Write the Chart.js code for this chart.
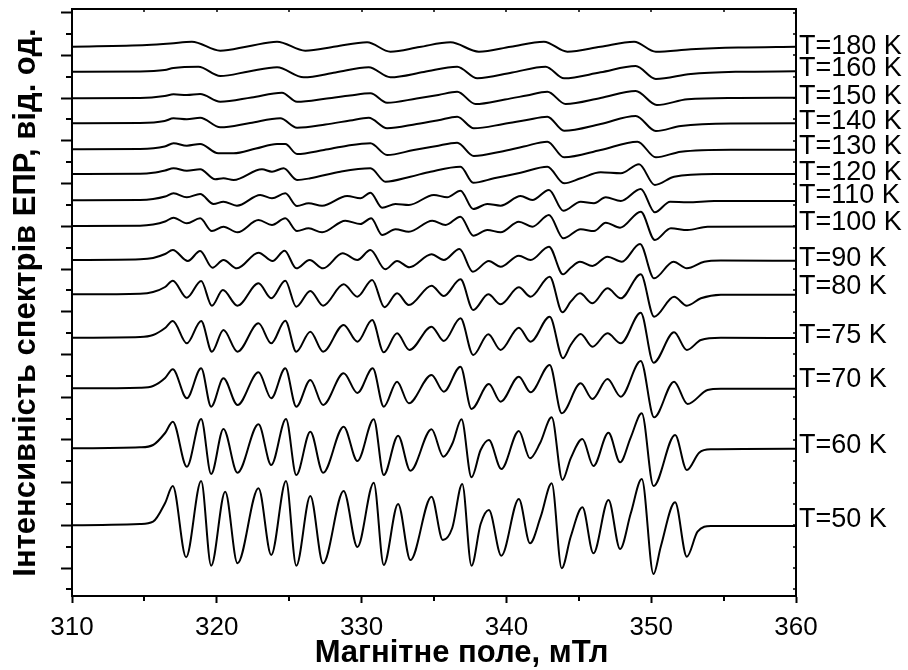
<!DOCTYPE html>
<html>
<head>
<meta charset="utf-8">
<script src="https://cdn.jsdelivr.net/npm/chart.js@4.4.1/dist/chart.umd.min.js"></script>
<style>
  html, body { margin: 0; padding: 0; background: #fff; }
  #wrap { width: 908px; height: 670px; }
</style>
</head>
<body>
<div id="wrap"><canvas id="myChart" width="908" height="670"></canvas></div>
<script>
// Спектри ЕПР: [поле, мТл ; інтенсивність, від. од.]
var temps = ['T=180 K', 'T=160 K', 'T=150 K', 'T=140 K', 'T=130 K', 'T=120 K', 'T=110 K',
    'T=100 K', 'T=90 K', 'T=80 K', 'T=75 K', 'T=70 K', 'T=60 K', 'T=50 K'];
// де стоїть підпис кожного спектра (по осі інтенсивності)
var labelPos = [549.3, 527, 499, 474, 449, 423, 400, 373, 337, 309, 260, 216, 150, 76];

var xTickLabels = ['310', '320', '330', '340', '350', '360'];
var xMinor = [315, 325, 335, 345, 355];
var xTitle = 'Магнітне поле, мТл';

var t180 = [[310, 549.3], [315.17, 551], [316.8, 552.5], [318.28, 554.3], [320.24, 545.3], [322.2, 549.8],
    [324.16, 554.3], [326.11, 545.3], [328.2, 549.5], [330.38, 553.7], [331.99, 544.3], [334, 549],
    [336.14, 553.7], [338.1, 544.3], [340.3, 549.3], [342.59, 554.3], [344.21, 544.3], [346.5, 549.3],
    [348.82, 554.3], [350.32, 544.3], [352.74, 546.7], [356, 548.5], [360, 549.3]];
var t160 = [[310, 524.3], [314.7, 524.5], [316.4, 526], [317.01, 528], [318.73, 529.3], [320.24, 520],
    [322.2, 524.5], [324.16, 528.7], [326, 518.7], [328.2, 523.5], [330.49, 528.7], [331.99, 518.7],
    [334.3, 524], [336.6, 529.3], [337.99, 517.7], [340.4, 523.5], [342.71, 529.3], [343.98, 517.7],
    [346.5, 523.7], [348.93, 530], [350.32, 517], [352.74, 522], [356, 524.2], [360, 524.7]];
var t150 = [[310, 497.7], [314.7, 498], [316.4, 500], [317.01, 501.7], [317.93, 501], [318.85, 502],
    [320.24, 494.3], [322.4, 498.5], [324.5, 503.3], [325.54, 494.3], [327.6, 497.5], [329.2, 500.5],
    [330.61, 502.7], [331.76, 493.3], [333.8, 497.5], [335.3, 501], [336.6, 504.3], [337.87, 492],
    [339.9, 496.5], [341.4, 500.5], [342.83, 504.3], [344.09, 492], [346.5, 498], [348.93, 505],
    [350.39, 491], [352.51, 496.7], [356, 498], [360, 498.3]];
var t140 = [[310, 472.7], [314.7, 473], [316.4, 475], [317.01, 477.7], [317.93, 476.7], [318.85, 478.3],
    [320.24, 468.7], [322.3, 473], [324.38, 477.7], [325.54, 468.3], [327.5, 471.5], [329.2, 475.5],
    [330.49, 478.3], [331.76, 467.7], [333.8, 472], [335.3, 475.8], [336.6, 479.3], [337.75, 467.7],
    [339.8, 472], [341.4, 476], [342.83, 479.3], [343.98, 465.3], [346.51, 472], [348.93, 480],
    [350.32, 465], [352.05, 470], [355.5, 472.5], [360, 472.7]];
var t130 = [[310, 446.7], [314.7, 447], [316.4, 449.5], [317.01, 452.7], [317.93, 450.3], [318.85, 452],
    [320.1, 442.7], [321.16, 442.7], [322.7, 447.5], [324.16, 452], [324.73, 452], [325.54, 442],
    [327.4, 446], [329, 450.3], [330.61, 452.7], [331.76, 441], [333.6, 446], [335.1, 449.7],
    [336.6, 453.3], [337.75, 440], [339.6, 444.3], [341.2, 449.5], [342.83, 454.3], [343.98, 438.7],
    [346.51, 446], [349.05, 454.3], [350.32, 438.7], [352.05, 444.3], [355.5, 446.3], [360, 446.3]];
var t120 = [[310, 422], [314.7, 422.3], [315.6, 423.2], [316.43, 425.5], [317.01, 427.7], [317.93, 425.3],
    [318.85, 426.7], [319.89, 416.7], [320.46, 417.7], [321.16, 416], [323.12, 426.7], [323.81, 424.3],
    [324.61, 427.7], [325.54, 416], [326.46, 417.7], [328.53, 424.3], [330.61, 427.7], [331.65, 414.3],
    [333.37, 419.3], [334.76, 424.3], [336.83, 429.3], [337.71, 413.3], [339.14, 417.7], [340.98, 423.3],
    [342.83, 429.3], [343.98, 412.7], [345.13, 417.7], [346.51, 423.7], [347.9, 422.7], [349.16, 431.7],
    [350.25, 411], [351.58, 419.3], [354.35, 422], [360, 422]];
var t110 = [[310, 395.7], [314.7, 396], [315.6, 397], [316.43, 399.5], [317.01, 402.7], [317.93, 398.7],
    [318.85, 402], [319.77, 392], [320.46, 394.3], [321.39, 390.3], [323, 401], [323.81, 397.7],
    [324.73, 402.7], [325.54, 390], [326.34, 392.7], [327.27, 390.3], [329, 400], [329.92, 397.7],
    [330.61, 403.3], [331.42, 388.3], [332.34, 392], [333.26, 391], [334.99, 401], [335.91, 398.7],
    [336.83, 405.3], [337.71, 387], [338.68, 392], [339.6, 390.3], [340.98, 400], [341.79, 396],
    [342.94, 406], [343.93, 385.3], [345.13, 394.3], [346.05, 392.7], [346.86, 398.7], [347.9, 395],
    [349.28, 407], [350.25, 383.7], [351.31, 394.3], [352.51, 393.7], [354.35, 395], [360, 395]];
var t100 = [[310, 370], [314.7, 370.3], [315.6, 371.5], [316.43, 374.5], [317.01, 378.3], [317.93, 372.7],
    [318.85, 377.7], [319.66, 365], [320.46, 369.3], [321.43, 363.7], [322.88, 376], [323.81, 371],
    [324.73, 377.7], [325.54, 365], [326.34, 367.7], [327.27, 363.7], [328.88, 375.3], [329.92, 372],
    [330.66, 377.7], [331.42, 361], [332.34, 366.7], [333.26, 364.3], [334.88, 375.3], [335.8, 371],
    [336.83, 379.3], [337.71, 360.3], [338.68, 366], [339.6, 363.7], [340.86, 374.3], [341.79, 369.3],
    [342.94, 381], [343.93, 357.7], [345.13, 366.7], [346.05, 365], [346.86, 373.3], [347.85, 368.3],
    [349.28, 384.3], [350.25, 356], [351.36, 367.7], [352.51, 366], [353.89, 369.3], [360, 369.5]];
var t90 = [[310, 336], [314.7, 336.7], [315.6, 338], [316.43, 342], [316.96, 346], [318, 335],
    [318.85, 345], [319.7, 328.3], [320.46, 336], [321.39, 327.7], [322.88, 343.3], [323.85, 335],
    [324.68, 345.3], [325.49, 327.7], [326.41, 336], [327.34, 327.7], [328.69, 342.7], [329.71, 336],
    [330.61, 346], [331.63, 326.7], [332.45, 335], [333.3, 328.7], [334.83, 341.7], [335.68, 336],
    [336.76, 347], [337.68, 324.3], [338.79, 335], [339.6, 329.3], [340.86, 340.3], [341.67, 336],
    [342.94, 349.3], [343.91, 321.7], [344.44, 328.3], [345.08, 334.3], [345.94, 330], [346.98, 339.3],
    [347.97, 334.3], [349.23, 352], [350.2, 317.7], [351.54, 334.3], [352.46, 327.7], [353.66, 334.3],
    [354.81, 335.5], [360, 335.3]];
var t80 = [[310, 301.7], [314.7, 302.3], [315.6, 304], [316.43, 309], [316.96, 315.3], [317.93, 298.3],
    [318.92, 315], [319.66, 290.3], [320.42, 306], [321.43, 290.3], [322.88, 312.7], [323.76, 297.7],
    [324.73, 315.3], [325.49, 289.3], [326.46, 305], [327.34, 290.3], [328.76, 311.7], [329.71, 299.3],
    [330.73, 316], [331.58, 288.7], [332.45, 302.7], [333.26, 291], [334.83, 310.3], [335.68, 300],
    [336.83, 316.7], [337.71, 286], [338.75, 301.7], [339.6, 291.7], [340.86, 308.7], [341.67, 299.3],
    [342.99, 319.3], [343.87, 283.7], [344.44, 294.3], [345.08, 302.7], [345.94, 292.7], [346.98, 307.7],
    [347.9, 297.7], [349.28, 321.7], [350.2, 279.3], [351.58, 299.3], [352.46, 290.3], [353.43, 297.7],
    [354.81, 301.3], [360, 301.3]];
var t75 = [[310, 258.3], [314.7, 259], [315.6, 261], [316.43, 268], [316.96, 275], [317.93, 252.7],
    [318.92, 275], [319.66, 244.3], [320.46, 266], [321.43, 244.3], [322.88, 272.7], [323.76, 252.7],
    [324.73, 275.3], [325.49, 244.3], [326.46, 264.3], [327.34, 244.3], [328.76, 271], [329.71, 254.3],
    [330.73, 276], [331.53, 243.7], [332.45, 262.7], [333.3, 246], [334.83, 269.3], [335.68, 255],
    [336.83, 277.7], [337.71, 241], [338.75, 261.7], [339.6, 246], [340.86, 268.3], [341.67, 254.3],
    [342.99, 279.3], [343.91, 237.7], [344.44, 251], [345.13, 262], [345.94, 249.3], [346.98, 262.7],
    [347.9, 252.7], [349.28, 283.3], [350.16, 233.3], [351.58, 263.7], [352.46, 246], [353.43, 256],
    [354.81, 258.3], [360, 258]];
var t70 = [[310, 207.7], [314.7, 208.3], [315.6, 210], [316.43, 218], [316.96, 226.7], [317.93, 197.7],
    [318.92, 227.7], [319.61, 189.3], [320.46, 217.7], [321.43, 191], [322.88, 223.7], [323.76, 197.7],
    [324.73, 227.7], [325.49, 189.3], [326.46, 216], [327.34, 191], [328.76, 222.7], [329.71, 203],
    [330.77, 227.7], [331.53, 189.3], [332.45, 214.3], [333.26, 192.7], [334.83, 221], [335.68, 204.3],
    [336.83, 229.3], [337.59, 187], [338.79, 212], [339.6, 194.3], [340.86, 219.3], [341.67, 203.7],
    [342.99, 231], [343.82, 182.7], [345.13, 212.7], [345.94, 197], [346.98, 217], [347.9, 199.3],
    [349.28, 235], [350.2, 178.7], [351.58, 214.3], [352.51, 192], [353.89, 206], [354.81, 207.3],
    [360, 207.3]];
var t60 = [[310, 147.7], [314.7, 148.7], [315.6, 151], [316.43, 163], [316.96, 174.3], [317.93, 129.3],
    [318.92, 177], [319.61, 122], [320.46, 167], [321.43, 123.3], [322.88, 171.7], [323.76, 131],
    [324.78, 177], [325.49, 121], [326.46, 164.3], [327.34, 123.3], [328.76, 169.3], [329.71, 135],
    [330.84, 176.7], [331.53, 121], [332.52, 160.3], [333.37, 125.3], [334.83, 166.7], [335.65, 139.3],
    [336.28, 152.7], [336.9, 176.7], [337.59, 118.7], [338.22, 146], [338.79, 156], [339.65, 127],
    [340.86, 165], [341.63, 137.7], [342.32, 152.7], [343.13, 178.7], [343.87, 116], [344.44, 137.7],
    [345.25, 157], [346.01, 130], [347.05, 163.3], [347.85, 133.7], [348.59, 158.7], [349.35, 182.7],
    [350.16, 110], [351.65, 161], [352.46, 126], [353.31, 143.3], [354.12, 146.7], [360, 147.3]];
var t50 = [[310, 70.7], [314.7, 72], [315.6, 74.3], [316.43, 93], [316.96, 110], [317.88, 38.7],
    [318.92, 115], [319.61, 30.3], [320.58, 104.3], [321.43, 32.7], [322.88, 107.7], [323.76, 41],
    [324.78, 115], [325.49, 30.3], [326.46, 100], [327.34, 32.7], [328.76, 105], [329.71, 49],
    [330.84, 113.3], [331.53, 31], [332.52, 92], [333.37, 36], [334.83, 99.3], [335.61, 56],
    [336.26, 68], [336.95, 112], [337.59, 30.3], [338.22, 72], [338.79, 86], [339.65, 40.3],
    [340.86, 97], [341.63, 52.7], [342.37, 79.3], [343.13, 112.7], [343.82, 27.7], [344.44, 59.3],
    [345.25, 88.7], [346.01, 42.7], [347.05, 96], [347.85, 47], [348.59, 82.7], [349.35, 117],
    [350.16, 22], [350.66, 49.3], [351.65, 93.7], [352.46, 39.3], [353.2, 64.3], [354.12, 70],
    [360, 70]];

var spectra = [t180, t160, t150, t140, t130, t120, t110, t100, t90, t80, t75, t70, t60, t50];

// поділки осі інтенсивності (без підписів)
var yMajor = [27.96, 70.68, 113.4, 156.12, 198.84, 241.56, 284.28, 327, 369.72, 412.44, 455.16, 497.88, 540.6, 583.32];
var yMinor = [6.6, 49.32, 92.04, 134.76, 177.48, 220.2, 262.92, 305.64, 348.36, 391.08, 433.8, 476.52, 519.24, 561.96];

var font = '"Liberation Sans", Arial, sans-serif';

var frame = {
    id: 'frame',
    afterDraw: function(chart) {
        var ctx = chart.ctx;
        var a = chart.chartArea;
        var x = chart.scales.x;
        var y = chart.scales.y;
        ctx.save();
        ctx.strokeStyle = '#000';
        ctx.lineWidth = 2;
        ctx.strokeRect(a.left, a.top, a.right - a.left, a.bottom - a.top);

        // дрібні поділки
        ctx.beginPath();
        xMinor.forEach(function(v) {
            var px = Math.round(x.getPixelForValue(v));
            ctx.moveTo(px, a.bottom);
            ctx.lineTo(px, a.bottom + 5);
        });
        yMinor.forEach(function(v) {
            var py = Math.round(y.getPixelForValue(v));
            ctx.moveTo(a.left, py);
            ctx.lineTo(a.left - 6, py);
        });
        ctx.stroke();

        // поділки на верхній і правій рамці
        ctx.lineWidth = 1.5;
        ctx.beginPath();
        xTickLabels.map(Number).concat(xMinor).forEach(function(v) {
            var px = Math.round(x.getPixelForValue(v));
            ctx.moveTo(px, a.top);
            ctx.lineTo(px, a.top + 3);
        });
        yMajor.concat(yMinor).forEach(function(v) {
            var py = Math.round(y.getPixelForValue(v));
            ctx.moveTo(a.right, py);
            ctx.lineTo(a.right - 3, py);
        });
        ctx.stroke();

        ctx.fillStyle = '#000';
        ctx.font = '27px ' + font;
        ctx.textBaseline = 'middle';
        ctx.textAlign = 'left';
        temps.forEach(function(t, i) {
            ctx.fillText(t, a.right + 3, y.getPixelForValue(labelPos[i]));
        });

        // назва горизонтальної осі
        ctx.font = 'bold 31px ' + font;
        ctx.textAlign = 'center';
        ctx.fillText(xTitle, x.getPixelForValue(336.9), 653);
        ctx.restore();
    }
};

var datasets = spectra.map(function(s, i) {
    return {
        label: temps[i],
        data: s.map(function(p) { return { x: p[0], y: p[1] }; }),
        borderColor: '#000',
        borderWidth: 2,
        pointRadius: 0,
        cubicInterpolationMode: 'monotone',
        fill: false
    };
});

new Chart(document.getElementById('myChart').getContext('2d'), {
    type: 'line',
    data: { datasets: datasets },
    plugins: [frame],
    options: {
        responsive: false,
        animation: false,
        layout: { padding: { top: 9, right: 112, left: 0, bottom: 0 } },
        plugins: { legend: { display: false }, tooltip: { enabled: false } },
        scales: {
            x: {
                type: 'linear',
                min: 310,
                max: 360,
                afterFit: function(s) { s.height = 74; },
                afterBuildTicks: function(s) {
                    s.ticks = xTickLabels.map(function(t) { return { value: Number(t) }; });
                },
                ticks: {
                    color: '#000',
                    padding: 9,
                    maxRotation: 0,
                    font: { family: font, size: 26 },
                    callback: function(v) { return xTickLabels[xTickLabels.indexOf(String(v))] || ''; }
                },
                grid: { drawOnChartArea: false, tickLength: 7, tickWidth: 2, tickColor: '#000' },
                border: { color: '#000', width: 2 }
            },
            y: {
                type: 'linear',
                min: 0,
                max: 587,
                afterFit: function(s) { s.width = 72; },
                afterBuildTicks: function(s) {
                    s.ticks = yMajor.map(function(v) { return { value: v }; });
                },
                ticks: { display: false },
                grid: { drawOnChartArea: false, tickLength: 11, tickWidth: 2, tickColor: '#000' },
                border: { color: '#000', width: 2 },
                title: {
                    display: true,
                    text: 'Інтенсивність спектрів ЕПР, від. од.',
                    color: '#000',
                    padding: { top: 8, bottom: 0 },
                    font: { family: font, size: 31, weight: 'bold' }
                }
            }
        }
    }
});
</script>
</body>
</html>
